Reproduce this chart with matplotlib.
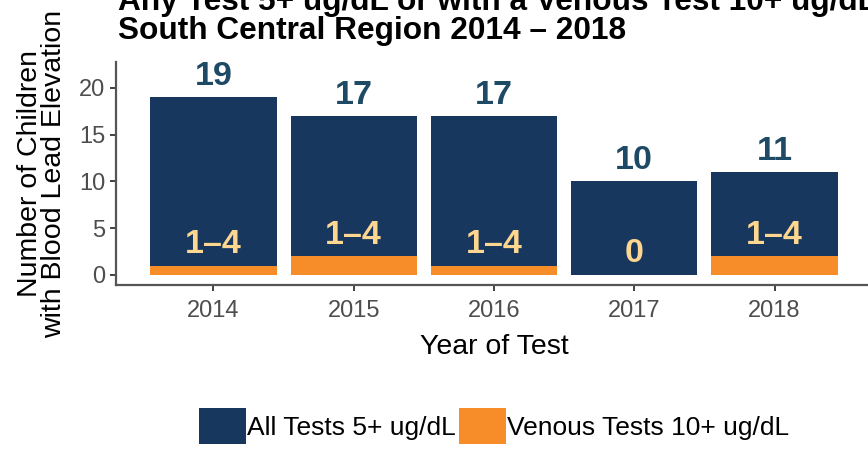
import matplotlib
matplotlib.use("Agg")
import matplotlib.pyplot as plt
from matplotlib.patches import Patch

years = ["2014", "2015", "2016", "2017", "2018"]
all_tests = [19, 17, 17, 10, 11]
venous_tests = [1, 2, 1, 0, 2]
all_labels = ["19", "17", "17", "10", "11"]
venous_labels = ["1\u20134", "1\u20134", "1\u20134", "0", "1\u20134"]

title_text = "Any Test 5+ ug/dL or with a Venous Test 10+ ug/dL\nSouth Central Region 2014 \u2013 2018"

NAVY = "#17375E"
ORANGE = "#F68D28"
TOP_LABEL = "#1F4A66"
LOW_LABEL = "#FDD68F"
GRAY = "#4D4D4D"

plt.rcParams['font.family'] = ['Liberation Sans', 'DejaVu Sans']

fig = plt.figure(figsize=(8.68, 4.49), dpi=100)
ax = fig.add_axes([116/868, 1 - 285/449, (872 - 116)/868, (285 - 62)/449])

x = list(range(1, len(years) + 1))
ax.bar(x, all_tests, width=0.9, color=NAVY, zorder=2)
ax.bar(x, venous_tests, width=0.9, color=ORANGE, zorder=3)

off = 2.25
for xi, v, lab in zip(x, all_tests, all_labels):
    ax.text(xi, v + off, lab, ha='center', va='center', fontsize=24.5,
            fontweight='bold', color=TOP_LABEL, zorder=4)
for xi, v, lab in zip(x, venous_tests, venous_labels):
    ax.text(xi, v + off, lab, ha='center', va='center', fontsize=24.5,
            fontweight='bold', color=LOW_LABEL, zorder=4)

ax.set_xlim(1 - 97.5/140.3, 5 + 97.5/140.3)
ax.set_ylim(-1.07, 22.78)
ax.set_xticks(x)
ax.set_xticklabels(years)
ax.set_yticks([0, 5, 10, 15, 20])

for s in ['top', 'right']:
    ax.spines[s].set_visible(False)
for s in ['left', 'bottom']:
    ax.spines[s].set_color('#555555')
    ax.spines[s].set_linewidth(1.6)
ax.tick_params(axis='both', colors='#333333', labelcolor=GRAY, labelsize=17,
               length=4.5, width=1.3, pad=3)
ax.tick_params(axis='x', pad=6)

ax.set_xlabel("Year of Test", fontsize=20.5, color='black', labelpad=9)
ax.set_ylabel("Number of Children\nwith Blood Lead Elevation", fontsize=20.5,
              color='black', labelpad=9, linespacing=0.9)

fig.text(118/868, 1 - 39/449, title_text, ha='left', va='baseline',
         fontsize=22.8, fontweight='bold', color='black', linespacing=0.95)

handles = [Patch(facecolor=NAVY, edgecolor='none'),
           Patch(facecolor=ORANGE, edgecolor='none')]
fig.legend(handles, ["All Tests 5+ ug/dL", "Venous Tests 10+ ug/dL"],
           loc='center', bbox_to_anchor=(494/868, 1 - 426/449), ncol=2,
           frameon=False, fontsize=19, handlelength=1.78, handleheight=1.67,
           handletextpad=0.05, columnspacing=0.1, borderpad=0)

fig.savefig("out.png", dpi=100)
